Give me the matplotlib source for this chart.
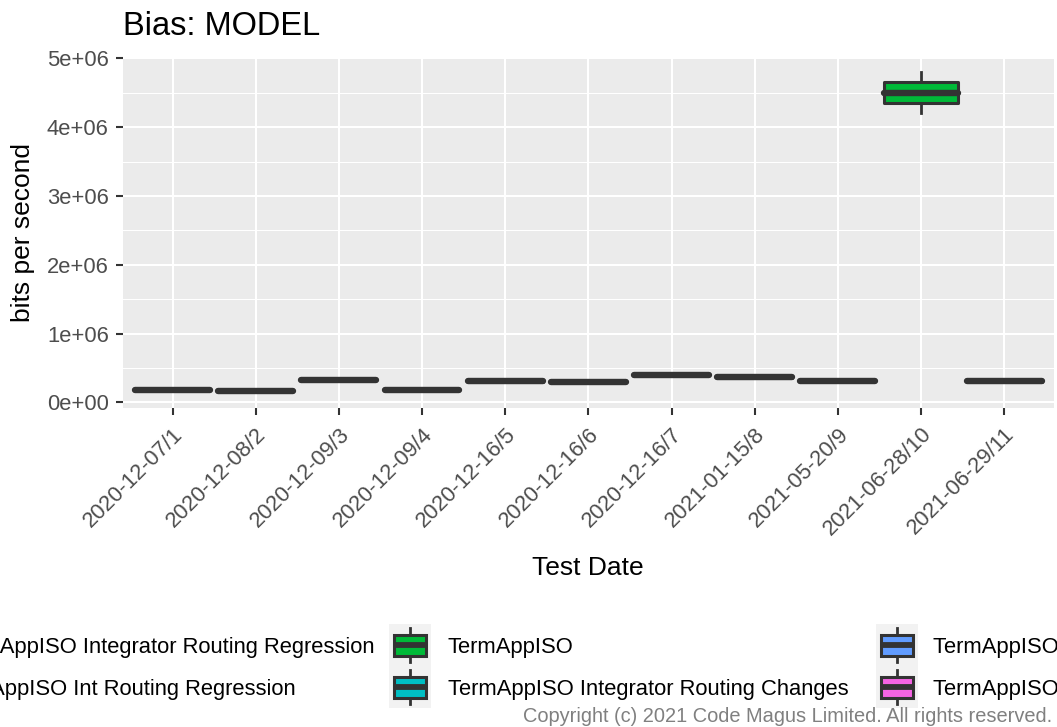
#!/usr/bin/env python3
"""Bias: MODEL boxplot, bits per second per test date."""

import matplotlib
matplotlib.use("Agg")
import matplotlib.pyplot as plt
from matplotlib.patches import Rectangle
from matplotlib.lines import Line2D
from matplotlib.ticker import MultipleLocator

W, H = 1057, 727
DPI = 100

dates = ["2020-12-07/1", "2020-12-08/2", "2020-12-09/3", "2020-12-09/4",
         "2020-12-16/5", "2020-12-16/6", "2020-12-16/7", "2021-01-15/8",
         "2021-05-20/9", "2021-06-28/10", "2021-06-29/11"]
# box stats in bits per second
q1 = [0.180e6, 0.164e6, 0.326e6, 0.180e6, 0.302e6, 0.288e6, 0.394e6, 0.360e6,
      0.309e6, 4.346e6, 0.300e6]
med = [0.183e6, 0.167e6, 0.329e6, 0.183e6, 0.305e6, 0.291e6, 0.397e6, 0.363e6,
       0.312e6, 4.500e6, 0.314e6]
q3 = [0.186e6, 0.170e6, 0.332e6, 0.186e6, 0.308e6, 0.294e6, 0.400e6, 0.366e6,
      0.315e6, 4.655e6, 0.330e6]
whislo = [0.180e6, 0.164e6, 0.326e6, 0.180e6, 0.302e6, 0.288e6, 0.394e6, 0.360e6,
          0.309e6, 4.200e6, 0.295e6]
whishi = [0.186e6, 0.170e6, 0.332e6, 0.186e6, 0.308e6, 0.294e6, 0.400e6, 0.366e6,
          0.315e6, 4.800e6, 0.345e6]

series = ["AcqAppISO Integrator Routing Regression",
          "IssAppISO Int Routing Regression",
          "TermAppISO",
          "TermAppISO Integrator Routing Changes",
          "TermAppISO Integrator Routing Regression",
          "TermAppISO Routing Regression"]
series_colors = ["#F8766D", "#B79F00", "#00BA38", "#00BFC4", "#619CFF", "#F564E3"]
# series index of each box
box_series = [0, 0, 1, 1, 3, 3, 3, 4, 5, 2, 4]

yticks = [0, 1e6, 2e6, 3e6, 4e6, 5e6]
ytick_labels = ["0e+00", "1e+06", "2e+06", "3e+06", "4e+06", "5e+06"]

DARK = "#333333"
plt.rcParams["font.family"] = ["Liberation Sans", "DejaVu Sans"]


def fx(px):
    return px / W


def fy(py):
    return 1 - py / H


def draw_key(fig, left, cy, color, size=42):
    top = cy - size / 2
    fig.add_artist(Rectangle((fx(left), fy(top + size)), size / W, size / H,
                             transform=fig.transFigure, facecolor="#F2F2F2",
                             edgecolor="none"))
    cx = left + size / 2
    for a, b in ((0.1, 0.25), (0.75, 0.9)):
        fig.add_artist(Line2D([fx(cx), fx(cx)], [fy(top + a * size), fy(top + b * size)],
                              transform=fig.transFigure, color=DARK, linewidth=2.0))
    fig.add_artist(Rectangle((fx(left + 0.11 * size), fy(top + 0.75 * size)),
                             0.78 * size / W, 0.5 * size / H,
                             transform=fig.transFigure, facecolor=color,
                             edgecolor=DARK, linewidth=2.2))
    fig.add_artist(Line2D([fx(left + 0.11 * size), fx(left + 0.89 * size)],
                          [fy(cy), fy(cy)], transform=fig.transFigure,
                          color=DARK, linewidth=4.2, solid_capstyle="butt"))


def main():
    fig = plt.figure(figsize=(W / DPI, H / DPI), dpi=DPI)
    ax = fig.add_axes([fx(122.7), fy(408.3), (1054 - 122.7) / W, (408.3 - 58.3) / H])
    ax.set_facecolor("#EBEBEB")

    stats = [dict(med=m, q1=a, q3=b, whislo=lo, whishi=hi, fliers=[])
             for m, a, b, lo, hi in zip(med, q1, q3, whislo, whishi)]
    pos = list(range(1, len(dates) + 1))
    bp = ax.bxp(stats, positions=pos, widths=0.9, patch_artist=True,
                showfliers=False, showcaps=False,
                boxprops=dict(linewidth=2.2, edgecolor=DARK, joinstyle="round"),
                medianprops=dict(color=DARK, linewidth=4.6, solid_capstyle="round"),
                whiskerprops=dict(color=DARK, linewidth=2.0))
    for patch, s in zip(bp["boxes"], box_series):
        patch.set_facecolor(series_colors[s])
        patch.set_zorder(3)
    for line in bp["medians"]:
        line.set_zorder(4)

    ax.set_xlim(0.4, len(dates) + 0.6)
    ax.set_ylim(-0.087e6, 5.0e6)
    ax.set_xticks(pos)
    ax.set_xticklabels(dates, rotation=45, ha="right", va="top",
                       rotation_mode="anchor")
    ax.set_yticks(yticks)
    ax.set_yticklabels(ytick_labels)
    ax.yaxis.set_minor_locator(MultipleLocator(0.5e6))

    ax.grid(True, which="major", color="white", linewidth=1.5)
    ax.grid(True, which="minor", axis="y", color="white", linewidth=0.75)
    ax.set_axisbelow(True)
    for sp in ax.spines.values():
        sp.set_visible(False)
    ax.tick_params(which="major", length=5, width=1.5, color=DARK,
                   labelcolor="#4D4D4D", labelsize=15.8)
    ax.tick_params(axis="y", pad=5)
    ax.tick_params(axis="x", pad=6)
    ax.tick_params(which="minor", length=0)

    fig.text(fx(122.7), fy(35), "Bias: MODEL", fontsize=23.5, va="baseline",
             ha="left", color="black")
    fig.text(fx(23.5), fy(233), "bits per second", fontsize=19, rotation=90,
             ha="center", va="center", color="black")
    fig.text(fx(588), fy(575), "Test Date", fontsize=19, ha="center",
             va="baseline", color="black")

    # legend, two rows, column-major, wider than the figure
    rows_y = [645, 687]
    col2_key, col3_key = 389, 876
    t_first = fig.text(0, 0, series[0], fontsize=15.8)
    renderer = fig.canvas.get_renderer()
    w0 = t_first.get_window_extent(renderer).width
    t_first.remove()
    col1_text = 375 - w0
    col1_key = col1_text - 59
    cols = [(col1_key, col1_text), (col2_key, 448), (col3_key, 933)]
    for i, name in enumerate(series):
        key_x, text_x = cols[i // 2]
        cy = rows_y[i % 2]
        draw_key(fig, key_x, cy, series_colors[i])
        fig.text(fx(text_x), fy(cy), name, fontsize=15.8, ha="left",
                 va="center_baseline", color="black")

    fig.text(fx(1052), fy(722), "Copyright (c) 2021 Code Magus Limited. All rights reserved.",
             fontsize=14.4, ha="right", va="baseline", color="#808080")

    fig.savefig("out.png", dpi=DPI)
    plt.close(fig)


if __name__ == "__main__":
    main()
